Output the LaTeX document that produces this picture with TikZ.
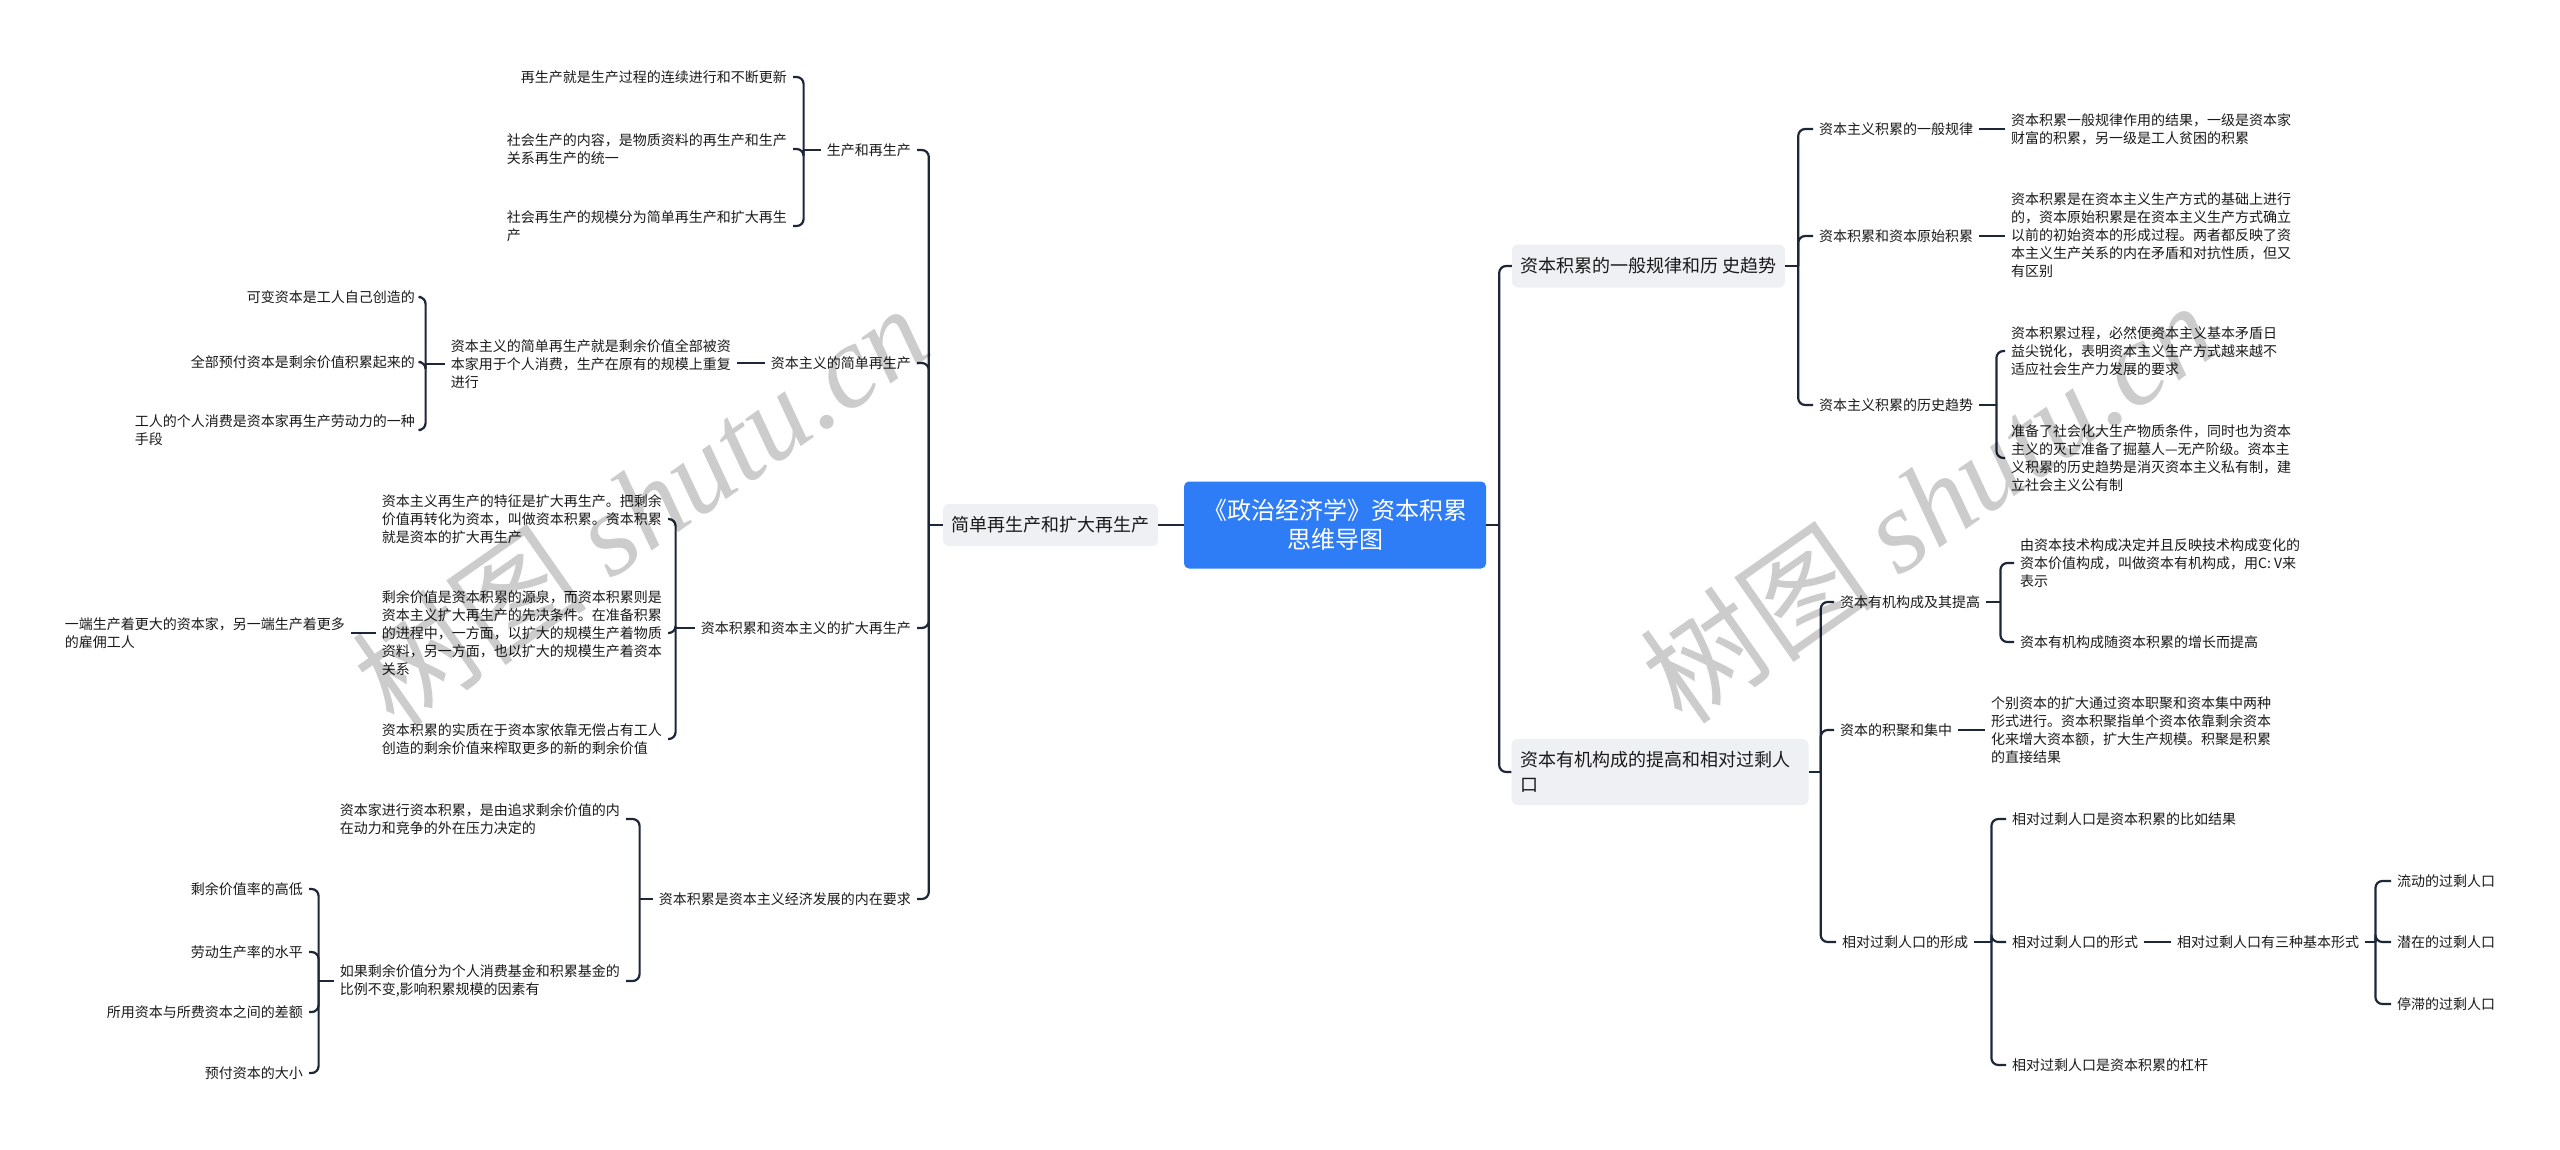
\documentclass[tikz,border=0pt]{standalone}
\usepackage{fontspec}
\setmainfont{Noto Sans CJK SC}
\newfontfamily\wmserif{Liberation Serif}
\definecolor{linec}{HTML}{1E2738}
\definecolor{rootblue}{HTML}{2F7DF6}
\definecolor{lonefill}{HTML}{EEF0F3}
\definecolor{txtc}{HTML}{1A1A1A}
\begin{document}
\begin{tikzpicture}[x=1pt,y=-1pt,
  conn/.style={draw=linec, line width=2.2pt},
  curv/.style={conn, rounded corners=7pt},
  tx/.style={text=txtc, font=\fontsize{14}{18}\selectfont, inner xsep=6pt, inner ysep=2pt, align=left},
  lt/.style={tx, anchor=east},
  rt/.style={tx, anchor=west},
  lone/.style={fill=lonefill, rounded corners=6pt, text=txtc, font=\fontsize{18}{25}\selectfont, inner sep=0pt},
  rootbox/.style={fill=rootblue, rounded corners=5pt, text=white, font=\fontsize{24}{29}\selectfont, align=center, inner sep=0pt, minimum width=302pt, minimum height=87pt},
  wm/.style={rotate=35, text=black, text opacity=0.2, font=\fontsize{118}{118}\selectfont, inner sep=0pt}
]
\fill[white] (0,0) rectangle (2560,1149);
\path[use as bounding box] (0,0) rectangle (2560,1149);

% root and first level
\node[rootbox] (root) at (1335,525) {《政治经济学》资本积累\\思维导图};
\node[lone, minimum width=215pt, minimum height=42pt] (L) at (1050.5,525) {简单再生产和扩大再生产};
\node[lone, minimum width=273pt, minimum height=43pt] (R1) at (1648.5,266) {资本积累的一般规律和历 史趋势};
\node[lone, minimum width=296pt, minimum height=66pt, text width=279pt, align=left, inner xsep=9pt] (R2) at (1660,772) {资本有机构成的提高和相对过剩人\\口};

% left side
\node[lt] (n1) at (917,150) {生产和再生产};
\node[lt] (n11) at (793,77) {再生产就是生产过程的连续进行和不断更新};
\node[lt] (n12) at (793,149) {社会生产的内容，是物质资料的再生产和生产\\关系再生产的统一};
\node[lt] (n13) at (793,226) {社会再生产的规模分为简单再生产和扩大再生\\产};
\node[lt] (n2) at (917,363) {资本主义的简单再生产};
\node[lt] (n21) at (737,364) {资本主义的简单再生产就是剩余价值全部被资\\本家用于个人消费，生产在原有的规模上重复\\进行};
\node[lt] (n211) at (421,297) {可变资本是工人自己创造的};
\node[lt] (n212) at (421,362) {全部预付资本是剩余价值积累起来的};
\node[lt] (n213) at (421,430) {工人的个人消费是资本家再生产劳动力的一种\\手段};
\node[lt] (n3) at (917,628) {资本积累和资本主义的扩大再生产};
\node[lt] (n31) at (668,519) {资本主义再生产的特征是扩大再生产。把剩余\\价值再转化为资本，叫做资本积累。资本积累\\就是资本的扩大再生产};
\node[lt] (n32) at (668,633) {剩余价值是资本积累的源泉，而资本积累则是\\资本主义扩大再生产的先决条件。在准备积累\\的进程中，一方面，以扩大的规模生产着物质\\资料，另一方面，也以扩大的规模生产着资本\\关系};
\node[lt] (n321) at (351,633) {一端生产着更大的资本家，另一端生产着更多\\的雇佣工人};
\node[lt] (n33) at (668,739) {资本积累的实质在于资本家依靠无偿占有工人\\创造的剩余价值来榨取更多的新的剩余价值};
\node[lt] (n4) at (917,899) {资本积累是资本主义经济发展的内在要求};
\node[lt] (n41) at (626,819) {资本家进行资本积累，是由追求剩余价值的内\\在动力和竞争的外在压力决定的};
\node[lt] (n42) at (626,981) {如果剩余价值分为个人消费基金和积累基金的\\比例不变,影响积累规模的因素有};
\node[lt] (n421) at (309,889) {剩余价值率的高低};
\node[lt] (n422) at (309,952) {劳动生产率的水平};
\node[lt] (n423) at (309,1012) {所用资本与所费资本之间的差额};
\node[lt] (n424) at (309,1073) {预付资本的大小};

% right side
\node[rt] (m1) at (1813,129) {资本主义积累的一般规律};
\node[rt] (m11) at (2005,129) {资本积累一般规律作用的结果，一级是资本家\\财富的积累，另一级是工人贫困的积累};
\node[rt] (m2) at (1813,236) {资本积累和资本原始积累};
\node[rt] (m21) at (2005,235) {资本积累是在资本主义生产方式的基础上进行\\的，资本原始积累是在资本主义生产方式确立\\以前的初始资本的形成过程。两者都反映了资\\本主义生产关系的内在矛盾和对抗性质，但又\\有区别};
\node[rt] (m3) at (1813,405) {资本主义积累的历史趋势};
\node[rt] (m31) at (2005,351) {资本积累过程，必然便资本主义基本矛盾日\\益尖锐化，表明资本主义生产方式越来越不\\适应社会生产力发展的要求};
\node[rt] (m32) at (2005,458) {准备了社会化大生产物质条件，同时也为资本\\主义的灭亡准备了掘墓人—无产阶级。资本主\\义积累的历史趋势是消灭资本主义私有制，建\\立社会主义公有制};
\node[rt] (p1) at (1834,602) {资本有机构成及其提高};
\node[rt] (p11) at (2014,563) {由资本技术构成决定并且反映技术构成变化的\\资本价值构成，叫做资本有机构成，用C: V来\\表示};
\node[rt] (p12) at (2014,642) {资本有机构成随资本积累的增长而提高};
\node[rt] (p2) at (1834,730) {资本的积聚和集中};
\node[rt] (p21) at (1985,730.5) {个别资本的扩大通过资本职聚和资本集中两种\\形式进行。资本积聚指单个资本依靠剩余资本\\化来增大资本额，扩大生产规模。积聚是积累\\的直接结果};
\node[rt] (p3) at (1836,942) {相对过剩人口的形成};
\node[rt] (p31) at (2006,819) {相对过剩人口是资本积累的比如结果};
\node[rt] (p32) at (2006,942) {相对过剩人口的形式};
\node[rt] (p321) at (2171,942) {相对过剩人口有三种基本形式};
\node[rt] (p3211) at (2391,881) {流动的过剩人口};
\node[rt] (p3212) at (2391,942) {潜在的过剩人口};
\node[rt] (p3213) at (2391,1004) {停滞的过剩人口};
\node[rt] (p33) at (2006,1065) {相对过剩人口是资本积累的杠杆};

% connectors: root
\draw[conn] (root.west) -- (L.east);
\draw[conn] (root.east) -- ++(13,0) coordinate (jR);
\draw[curv] (jR) |- (R1.west);
\draw[curv] (jR) |- (R2.west);

% left trunk
\draw[conn] (L.west) -- ++(-14,0) coordinate (jL);
\foreach \c in {n1,n2,n3,n4} \draw[curv] (jL) |- (\c.east);

\draw[conn] (n1.west) -- ++(-17,0) coordinate (j1);
\foreach \c in {n11,n12,n13} \draw[curv] (j1) |- (\c.east);

\draw[conn] (n2.west) -- (n2.west -| n21.east);
\draw[conn] (n21.west) -- ++(-19,0) coordinate (j21);
\foreach \c in {n211,n212,n213} \draw[curv] (j21) |- (\c.east);

\draw[conn] (n3.west) -- ++(-19,0) coordinate (j3);
\foreach \c in {n31,n32,n33} \draw[curv] (j3) |- (\c.east);
\draw[conn] (n32.west) -- (n32.west -| n321.east);

\draw[conn] (n4.west) -- ++(-13,0) coordinate (j4);
\foreach \c in {n41,n42} \draw[curv] (j4) |- (\c.east);
\draw[conn] (n42.west) -- ++(-15,0) coordinate (j42);
\foreach \c in {n421,n422,n423,n424} \draw[curv] (j42) |- (\c.east);

% right branches
\draw[conn] (R1.east) -- ++(13,0) coordinate (jr1);
\foreach \c in {m1,m2,m3} \draw[curv] (jr1) |- (\c.west);
\draw[conn] (m1.east) -- (m1.east -| m11.west);
\draw[conn] (m2.east) -- (m2.east -| m21.west);
\draw[conn] (m3.east) -- ++(17,0) coordinate (jm3);
\foreach \c in {m31,m32} \draw[curv] (jm3) |- (\c.west);

\draw[conn] (R2.east) -- ++(12,0) coordinate (jr2);
\foreach \c in {p1,p2,p3} \draw[curv] (jr2) |- (\c.west);
\draw[conn] (p1.east) -- ++(14,0) coordinate (jp1);
\foreach \c in {p11,p12} \draw[curv] (jp1) |- (\c.west);
\draw[conn] (p2.east) -- (p2.east -| p21.west);
\draw[conn] (p3.east) -- ++(17,0) coordinate (jp3);
\foreach \c in {p31,p32,p33} \draw[curv] (jp3) |- (\c.west);
\draw[conn] (p32.east) -- (p32.east -| p321.west);
\draw[conn] (p321.east) -- ++(10,0) coordinate (jp321);
\foreach \c in {p3211,p3212,p3213} \draw[curv] (jp321) |- (\c.west);

% watermarks
\node[wm] (wm1) at (640,505) {树图 {\wmserif\itshape shutu.cn}};
\node[wm] (wm2) at (1928,502) {树图 {\wmserif\itshape shutu.cn}};
\end{tikzpicture}
\end{document}
